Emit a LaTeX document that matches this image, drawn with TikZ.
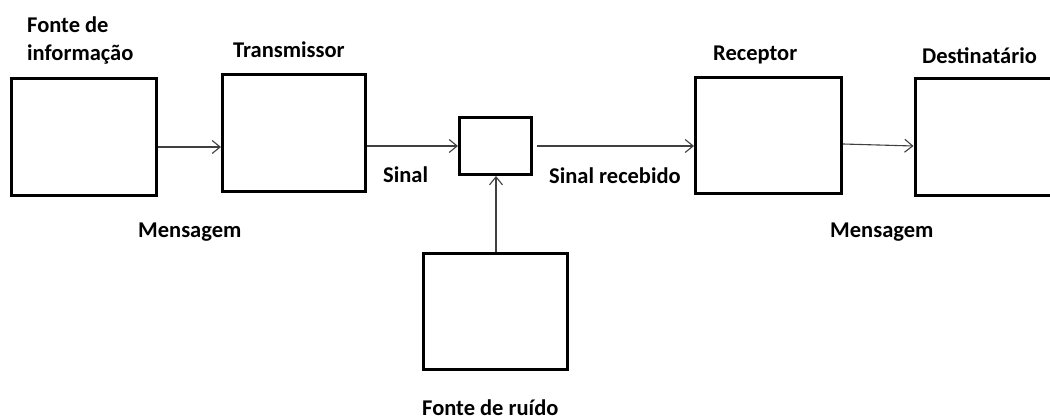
\documentclass[tikz,border=0pt]{standalone}
\usepackage{fontspec}
\setmainfont{Carlito}
\usetikzlibrary{arrows.meta}
\tikzset{
  box/.style={draw=black, line width=3pt, inner sep=0pt, fill=none},
  arr/.style={draw=black!75, line width=1.1pt, -{Straight Barb[length=8pt,width=13pt,line width=1.1pt]}},
  lbl/.style={font=\fontsize{22.5}{29}\selectfont\bfseries, inner sep=0pt, anchor=base west, text=black},
}
\begin{document}
\begin{tikzpicture}[x=1pt,y=-1pt]
\useasboundingbox (0,0) rectangle (1050,420);
\clip (0,0) rectangle (1050,420);
\fill[white] (0,0) rectangle (1050,420);
% boxes
\node[box, minimum width=145pt, minimum height=117pt] (src) at (84,137) {};
\node[box, minimum width=143pt, minimum height=117pt] (tx) at (294,133) {};
\node[box, minimum width=72pt, minimum height=57pt] (ch) at (495.5,146) {};
\node[box, minimum width=146pt, minimum height=116pt] (rx) at (768.5,135.5) {};
\node[box, minimum width=150pt, minimum height=117pt, anchor=west] (dst) at (913.5,137) {};
\node[box, minimum width=144pt, minimum height=116pt] (noise) at (495.5,311.5) {};
% connectors
\draw[arr] (src.east |- 0,147) -- (tx.west |- 0,147);
\draw[arr] (tx.east |- 0,146) -- (ch.west |- 0,146);
\draw[arr] ([xshift=4pt]ch.east |- 0,146) -- (rx.west |- 0,146);
\draw[arr] (rx.east |- 0,144) -- (dst.west |- 0,146);
\draw[arr] (noise.north -| 496,0) -- (ch.south -| 496,0);
% labels
\node[lbl] (l1) at (27,32.5) {Fonte de};
\node[lbl] (l2) at (27,61) {informação};
\node[lbl] (l3) at (233,58) {Transmissor};
\node[lbl] (l4) at (138,237.5) {Mensagem};
\node[lbl] (l5) at (383,182) {Sinal};
\node[lbl] (l6) at (549,183) {Sinal recebido};
\node[lbl] (l7) at (713,60) {Receptor};
\node[lbl] (l8) at (922,64) {Destinatário};
\node[lbl] (l9) at (830,237) {Mensagem};
\node[lbl] (l10) at (422,415) {Fonte de ruído};
\end{tikzpicture}
\end{document}
